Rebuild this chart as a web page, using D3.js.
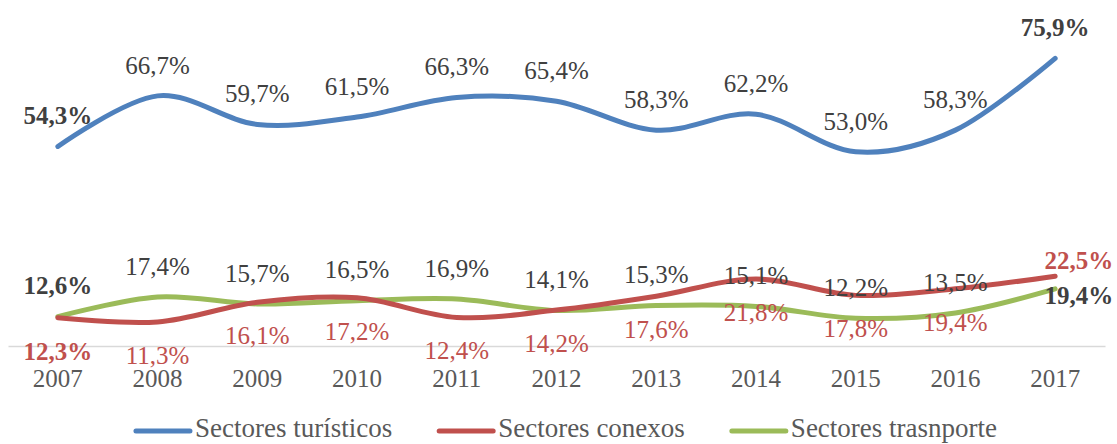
<!DOCTYPE html>
<html>
<head>
<meta charset="utf-8">
<script src="https://cdn.jsdelivr.net/npm/d3@7"></script>
<style>
    html, body { margin: 0; padding: 0; background: #ffffff; }
    svg { display: block; }
</style>
</head>
<body>
<script>
// 数据
const years = ['2007', '2008', '2009', '2010', '2011', '2012', '2013', '2014', '2015', '2016', '2017'];
const turisticos = [54.3, 66.7, 59.7, 61.5, 66.3, 65.4, 58.3, 62.2, 53.0, 58.3, 75.9];
const conexos = [12.3, 11.3, 16.1, 17.2, 12.4, 14.2, 17.6, 21.8, 17.8, 19.4, 22.5];
const transporte = [12.6, 17.4, 15.7, 16.5, 16.9, 14.1, 15.3, 15.1, 12.2, 13.5, 19.4];
const seriesNames = ['Sectores turísticos', 'Sectores conexos', 'Sectores trasnporte'];

const width = 1117, height = 444;
const serif = '"Liberation Serif", "Times New Roman", serif';
const fmt = v => v.toFixed(1).replace('.', ',') + '%';

const series = [
    {name: seriesNames[0], values: turisticos, color: '#4f81bd', labelColor: '#404040', below: false},
    {name: seriesNames[1], values: conexos, color: '#c0504d', labelColor: '#c0504d', below: true},
    {name: seriesNames[2], values: transporte, color: '#9bbb59', labelColor: '#404040', below: false}
];

const svg = d3.select('body')
    .append('svg')
    .attr('width', width)
    .attr('height', height);

// 比例尺
const x = d3.scaleBand().domain(years).range([8, 1105]);
const cx = d => x(d) + x.bandwidth() / 2;
const y = d3.scaleLinear().domain([0, 80]).range([368, 41.6]);

// x 轴
const axisY = 346;
const xAxis = svg.append('g')
    .attr('transform', `translate(0,${axisY})`)
    .call(d3.axisBottom(x).tickSize(0).tickPadding(0));
xAxis.select('.domain').attr('stroke', '#d9d9d9').attr('stroke-width', 1.5);
xAxis.selectAll('text')
    .attr('y', 32)
    .attr('dy', '0.35em')
    .style('font-family', serif)
    .style('font-size', '25px')
    .attr('fill', '#595959');

// 折线 (Excel 平滑线)
const line = d3.line()
    .x((d, i) => cx(years[i]))
    .y(d => y(d))
    .curve(d3.curveCardinal.tension(0));

[series[0], series[2], series[1]].forEach(s => {
    svg.append('path')
        .datum(s.values)
        .attr('fill', 'none')
        .attr('stroke', s.color)
        .attr('stroke-width', 5)
        .attr('stroke-linecap', 'round')
        .attr('d', line);
});

// 数据标签
const last = years.length - 1;
series.forEach((s, si) => {
    svg.append('g')
        .selectAll('text')
        .data(s.values)
        .enter()
        .append('text')
        .attr('x', (d, i) => (i === last && si > 0) ? cx(years[i]) + 58 : cx(years[i]))
        .attr('y', (d, i) => {
            if (i === last && si === 1) return y(d) - 16;
            if (i === last && si === 2) return y(d) + 6;
            return s.below ? y(d) + 33 : y(d) - 31;
        })
        .attr('dy', '0.35em')
        .attr('text-anchor', (d, i) => (i === last && si > 0) ? 'end' : 'middle')
        .style('font-family', serif)
        .style('font-size', '25px')
        .style('font-weight', (d, i) => (i === 0 || i === last) ? 'bold' : 'normal')
        .attr('fill', s.labelColor)
        .text(d => fmt(d));
});

// 图例
const legend = svg.append('g').attr('class', 'legend');
const legendY = 431;
let lx = 0;
series.forEach((s, i) => {
    const g = legend.append('g').attr('transform', `translate(${lx},0)`);
    g.append('line')
        .attr('x1', 0).attr('x2', 54)
        .attr('y1', legendY).attr('y2', legendY)
        .attr('stroke', s.color)
        .attr('stroke-width', 5)
        .attr('stroke-linecap', 'round');
    const t = g.append('text')
        .attr('x', 59)
        .attr('y', legendY - 3)
        .attr('dy', '0.35em')
        .style('font-family', serif)
        .style('font-size', '27px')
        .attr('fill', '#595959')
        .text(s.name);
    lx += 59 + t.node().getComputedTextLength() + 47;
});
const legendW = lx - 47;
legend.attr('transform', `translate(${(width - legendW) / 2 + 8},0)`);
</script>
</body>
</html>
